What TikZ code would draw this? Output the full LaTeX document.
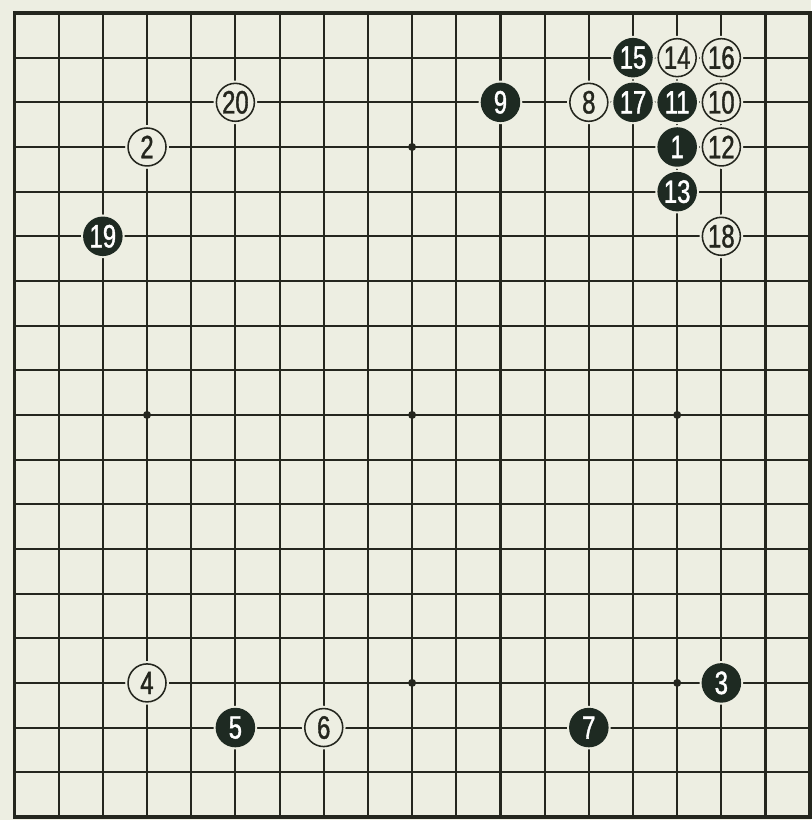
\documentclass[tikz,border=0pt]{standalone}
\usepackage{fontspec}
\newfontfamily\stonefont[FakeStretch=0.74,FakeBold=1.2]{Liberation Sans}
\definecolor{paper}{RGB}{237,238,226}
\definecolor{ink}{RGB}{36,38,30}
\definecolor{blackstone}{RGB}{30,42,34}
\tikzset{
  grid/.style={ink,line width=1.5pt},
  border/.style={ink,line width=2.8pt},
  stone/.style={circle,minimum size=0.95cm,inner sep=0pt,line width=1.1pt,
    preaction={draw=paper,line width=4pt},
    font=\stonefont\fontsize{23}{23}\selectfont},
  bstone/.style={stone,draw=blackstone,fill=blackstone,text=white},
  wstone/.style={stone,draw=ink,fill=paper,text=ink},
}
\begin{document}
\begin{tikzpicture}[x=1.105cm,y=-1.117cm]
\fill[paper] (-0.328,-0.291) rectangle (18.04,18.07);
\useasboundingbox (-0.328,-0.291) rectangle (18.04,18.07);

% board
\foreach \i in {1,...,17} {
  \draw[grid] (\i,0) -- (\i,18);
  \draw[grid] (0,\i) -- (18,\i);
}
\draw[border] (0,0) rectangle (18,18);
\foreach \x/\y in {9/3,3/9,9/9,15/9,9/15,15/15}
  \fill[ink] (\x,\y) circle (0.1cm);

% black stones
\node[bstone] (s1) at (15,3) {1};
\node[bstone] (s3) at (16,15) {3};
\node[bstone] (s5) at (5,16) {5};
\node[bstone] (s7) at (13,16) {7};
\node[bstone] (s9) at (11,2) {9};
\node[bstone] (s11) at (15,2) {11};
\node[bstone] (s13) at (15,4) {13};
\node[bstone] (s15) at (14,1) {15};
\node[bstone] (s17) at (14,2) {17};
\node[bstone] (s19) at (2,5) {19};

% white stones
\node[wstone] (s2) at (3,3) {2};
\node[wstone] (s4) at (3,15) {4};
\node[wstone] (s6) at (7,16) {6};
\node[wstone] (s8) at (13,2) {8};
\node[wstone] (s10) at (16,2) {10};
\node[wstone] (s12) at (16,3) {12};
\node[wstone] (s14) at (15,1) {14};
\node[wstone] (s16) at (16,1) {16};
\node[wstone] (s18) at (16,5) {18};
\node[wstone] (s20) at (5,2) {20};
\end{tikzpicture}
\end{document}
